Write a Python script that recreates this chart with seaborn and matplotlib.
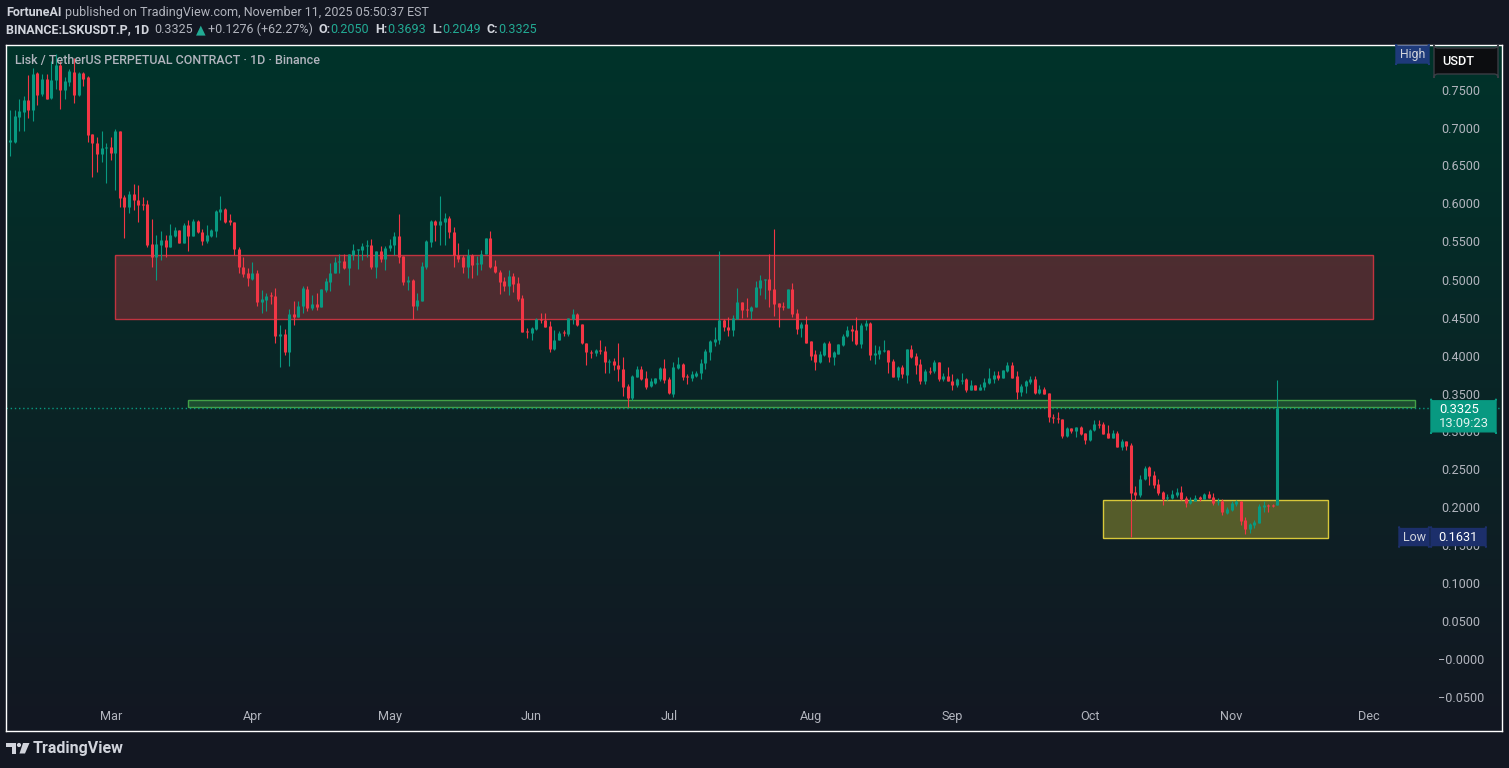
import numpy as np
import pandas as pd
import matplotlib
matplotlib.use("Agg")
import matplotlib.pyplot as plt
import matplotlib.dates as mdates
import matplotlib.colors as mcolors
from matplotlib.patches import Rectangle, FancyBboxPatch, Polygon, Circle
from matplotlib.transforms import Affine2D
import seaborn as sns

# ---------------- data (LSKUSDT.P, 1D, Binance) ----------------
START_DATE = "2025-02-07"
opens = [
    0.683, 0.683, 0.716, 0.723, 0.738, 0.725, 0.774, 0.746, 0.766, 0.741,
    0.764, 0.784, 0.751, 0.762, 0.775, 0.745, 0.774, 0.768, 0.693, 0.681,
    0.667, 0.675, 0.676, 0.669, 0.698, 0.610, 0.597, 0.615, 0.607, 0.601,
    0.601, 0.549, 0.531, 0.547, 0.554, 0.545, 0.559, 0.567, 0.550, 0.574,
    0.559, 0.579, 0.565, 0.552, 0.559, 0.566, 0.591, 0.595, 0.580, 0.577,
    0.542, 0.518, 0.511, 0.503, 0.511, 0.472, 0.475, 0.482, 0.480, 0.428,
    0.430, 0.407, 0.457, 0.453, 0.467, 0.490, 0.465, 0.470, 0.466, 0.488,
    0.499, 0.511, 0.525, 0.526, 0.517, 0.534, 0.541, 0.541, 0.546, 0.547,
    0.519, 0.539, 0.529, 0.544, 0.547, 0.559, 0.533, 0.499, 0.501, 0.467,
    0.474, 0.519, 0.551, 0.579, 0.574, 0.578, 0.583, 0.565, 0.534, 0.531,
    0.518, 0.534, 0.522, 0.523, 0.535, 0.557, 0.520, 0.512, 0.500, 0.493,
    0.507, 0.497, 0.478, 0.434, 0.432, 0.437, 0.450, 0.449, 0.441, 0.411,
    0.422, 0.433, 0.430, 0.450, 0.457, 0.443, 0.419, 0.407, 0.405, 0.409,
    0.408, 0.393, 0.395, 0.390, 0.384, 0.362, 0.346, 0.374, 0.384, 0.373,
    0.362, 0.366, 0.371, 0.386, 0.371, 0.351, 0.385, 0.391, 0.375, 0.373,
    0.375, 0.379, 0.392, 0.407, 0.420, 0.422, 0.449, 0.440, 0.436, 0.450,
    0.473, 0.463, 0.461, 0.466, 0.491, 0.501, 0.502, 0.490, 0.471, 0.467,
    0.464, 0.490, 0.458, 0.438, 0.443, 0.421, 0.404, 0.394, 0.403, 0.418,
    0.400, 0.404, 0.416, 0.427, 0.436, 0.436, 0.417, 0.441, 0.445, 0.403,
    0.404, 0.408, 0.409, 0.395, 0.374, 0.387, 0.376, 0.410, 0.401, 0.391,
    0.369, 0.382, 0.381, 0.394, 0.371, 0.375, 0.369, 0.363, 0.369, 0.371,
    0.357, 0.363, 0.357, 0.360, 0.366, 0.371, 0.376, 0.372, 0.382, 0.389,
    0.375, 0.354, 0.362, 0.367, 0.371, 0.352, 0.358, 0.353, 0.321, 0.320,
    0.318, 0.296, 0.307, 0.302, 0.308, 0.300, 0.291, 0.304, 0.312, 0.312,
    0.300, 0.294, 0.300, 0.281, 0.289, 0.284, 0.222, 0.218, 0.239, 0.255,
    0.245, 0.233, 0.222, 0.215, 0.215, 0.218, 0.222, 0.215, 0.208, 0.211,
    0.215, 0.213, 0.220, 0.216, 0.209, 0.211, 0.195, 0.199, 0.206, 0.210,
    0.185, 0.174, 0.179, 0.182, 0.203, 0.205, 0.205, 0.2050,
]
highs = [
    0.725, 0.725, 0.740, 0.743, 0.771, 0.780, 0.775, 0.772, 0.772, 0.790,
    0.799, 0.790, 0.768, 0.779, 0.793, 0.775, 0.775, 0.770, 0.693, 0.690,
    0.697, 0.681, 0.689, 0.700, 0.698, 0.613, 0.618, 0.627, 0.626, 0.611,
    0.607, 0.582, 0.561, 0.566, 0.561, 0.575, 0.571, 0.567, 0.576, 0.580,
    0.582, 0.580, 0.569, 0.574, 0.569, 0.593, 0.612, 0.596, 0.588, 0.577,
    0.545, 0.531, 0.517, 0.525, 0.515, 0.488, 0.484, 0.486, 0.491, 0.442,
    0.437, 0.463, 0.474, 0.474, 0.493, 0.493, 0.482, 0.484, 0.489, 0.504,
    0.524, 0.532, 0.535, 0.535, 0.535, 0.549, 0.542, 0.550, 0.554, 0.555,
    0.539, 0.546, 0.546, 0.555, 0.565, 0.588, 0.533, 0.507, 0.503, 0.484,
    0.525, 0.554, 0.580, 0.580, 0.612, 0.590, 0.585, 0.571, 0.550, 0.534,
    0.542, 0.536, 0.533, 0.541, 0.557, 0.566, 0.528, 0.514, 0.505, 0.514,
    0.511, 0.505, 0.481, 0.438, 0.440, 0.451, 0.458, 0.458, 0.447, 0.436,
    0.434, 0.436, 0.451, 0.463, 0.458, 0.444, 0.419, 0.409, 0.411, 0.422,
    0.415, 0.397, 0.399, 0.419, 0.400, 0.365, 0.376, 0.388, 0.388, 0.382,
    0.373, 0.373, 0.387, 0.397, 0.374, 0.394, 0.400, 0.392, 0.377, 0.382,
    0.382, 0.397, 0.411, 0.422, 0.439, 0.539, 0.450, 0.453, 0.455, 0.491,
    0.473, 0.477, 0.467, 0.500, 0.508, 0.502, 0.536, 0.568, 0.471, 0.473,
    0.490, 0.498, 0.463, 0.446, 0.454, 0.421, 0.409, 0.408, 0.420, 0.421,
    0.408, 0.417, 0.430, 0.441, 0.442, 0.452, 0.445, 0.449, 0.446, 0.416,
    0.414, 0.422, 0.409, 0.398, 0.388, 0.389, 0.411, 0.416, 0.405, 0.397,
    0.384, 0.387, 0.396, 0.394, 0.379, 0.387, 0.378, 0.373, 0.379, 0.372,
    0.370, 0.363, 0.364, 0.373, 0.385, 0.382, 0.381, 0.383, 0.394, 0.393,
    0.381, 0.364, 0.370, 0.375, 0.375, 0.363, 0.360, 0.353, 0.325, 0.327,
    0.318, 0.308, 0.307, 0.308, 0.309, 0.300, 0.305, 0.317, 0.317, 0.314,
    0.310, 0.304, 0.303, 0.292, 0.289, 0.287, 0.230, 0.245, 0.256, 0.256,
    0.250, 0.239, 0.224, 0.220, 0.225, 0.227, 0.230, 0.217, 0.216, 0.218,
    0.217, 0.221, 0.224, 0.221, 0.214, 0.213, 0.203, 0.210, 0.212, 0.211,
    0.189, 0.182, 0.185, 0.207, 0.210, 0.207, 0.207, 0.3693,
]
lows = [
    0.664, 0.681, 0.697, 0.698, 0.714, 0.711, 0.732, 0.743, 0.740, 0.740,
    0.752, 0.726, 0.740, 0.757, 0.734, 0.743, 0.756, 0.683, 0.637, 0.644,
    0.657, 0.629, 0.659, 0.620, 0.598, 0.557, 0.590, 0.594, 0.577, 0.594,
    0.545, 0.519, 0.501, 0.528, 0.532, 0.545, 0.558, 0.550, 0.550, 0.540,
    0.559, 0.563, 0.547, 0.550, 0.558, 0.558, 0.580, 0.576, 0.574, 0.534,
    0.510, 0.505, 0.493, 0.501, 0.467, 0.458, 0.461, 0.470, 0.419, 0.387,
    0.403, 0.388, 0.442, 0.453, 0.458, 0.461, 0.462, 0.462, 0.466, 0.485,
    0.487, 0.511, 0.510, 0.516, 0.495, 0.527, 0.516, 0.528, 0.531, 0.516,
    0.504, 0.525, 0.514, 0.540, 0.534, 0.524, 0.495, 0.488, 0.450, 0.462,
    0.474, 0.516, 0.545, 0.552, 0.547, 0.547, 0.557, 0.519, 0.525, 0.511,
    0.504, 0.504, 0.508, 0.515, 0.535, 0.517, 0.510, 0.483, 0.487, 0.482,
    0.485, 0.474, 0.433, 0.425, 0.422, 0.435, 0.445, 0.439, 0.406, 0.409,
    0.422, 0.427, 0.427, 0.443, 0.441, 0.417, 0.390, 0.399, 0.401, 0.404,
    0.379, 0.379, 0.383, 0.368, 0.349, 0.334, 0.343, 0.374, 0.370, 0.358,
    0.360, 0.364, 0.369, 0.366, 0.351, 0.348, 0.384, 0.370, 0.364, 0.369,
    0.374, 0.371, 0.384, 0.396, 0.415, 0.417, 0.434, 0.428, 0.428, 0.450,
    0.451, 0.453, 0.450, 0.466, 0.481, 0.476, 0.466, 0.454, 0.440, 0.462,
    0.464, 0.452, 0.430, 0.426, 0.419, 0.396, 0.383, 0.392, 0.401, 0.393,
    0.389, 0.404, 0.415, 0.426, 0.421, 0.416, 0.412, 0.436, 0.396, 0.391,
    0.397, 0.406, 0.379, 0.374, 0.370, 0.373, 0.366, 0.399, 0.378, 0.364,
    0.365, 0.378, 0.379, 0.368, 0.369, 0.368, 0.357, 0.360, 0.365, 0.354,
    0.356, 0.356, 0.357, 0.357, 0.364, 0.366, 0.370, 0.372, 0.380, 0.372,
    0.345, 0.349, 0.353, 0.364, 0.351, 0.351, 0.351, 0.315, 0.313, 0.313,
    0.294, 0.295, 0.300, 0.295, 0.297, 0.286, 0.289, 0.303, 0.306, 0.299,
    0.294, 0.294, 0.281, 0.278, 0.277, 0.1631, 0.212, 0.216, 0.238, 0.232,
    0.227, 0.218, 0.205, 0.212, 0.213, 0.216, 0.212, 0.202, 0.207, 0.210,
    0.211, 0.213, 0.214, 0.205, 0.205, 0.192, 0.194, 0.198, 0.204, 0.179,
    0.167, 0.168, 0.175, 0.182, 0.196, 0.196, 0.202, 0.2049,
]
closes = [
    0.685, 0.717, 0.724, 0.738, 0.725, 0.773, 0.745, 0.766, 0.740, 0.764,
    0.784, 0.751, 0.763, 0.776, 0.745, 0.774, 0.766, 0.692, 0.681, 0.667,
    0.675, 0.676, 0.669, 0.698, 0.609, 0.597, 0.615, 0.607, 0.600, 0.600,
    0.547, 0.531, 0.549, 0.554, 0.545, 0.561, 0.567, 0.550, 0.574, 0.559,
    0.579, 0.564, 0.552, 0.561, 0.567, 0.592, 0.595, 0.578, 0.577, 0.542,
    0.518, 0.509, 0.504, 0.510, 0.472, 0.476, 0.480, 0.480, 0.428, 0.430,
    0.406, 0.457, 0.453, 0.467, 0.491, 0.465, 0.470, 0.466, 0.489, 0.500,
    0.511, 0.525, 0.526, 0.517, 0.535, 0.541, 0.542, 0.546, 0.547, 0.519,
    0.539, 0.529, 0.544, 0.547, 0.559, 0.531, 0.499, 0.501, 0.467, 0.475,
    0.520, 0.552, 0.579, 0.574, 0.579, 0.583, 0.564, 0.534, 0.529, 0.518,
    0.534, 0.521, 0.524, 0.536, 0.557, 0.518, 0.512, 0.499, 0.493, 0.507,
    0.496, 0.476, 0.433, 0.433, 0.438, 0.450, 0.449, 0.440, 0.411, 0.422,
    0.432, 0.432, 0.451, 0.456, 0.442, 0.418, 0.406, 0.406, 0.409, 0.408,
    0.393, 0.395, 0.389, 0.384, 0.360, 0.346, 0.375, 0.384, 0.371, 0.361,
    0.368, 0.373, 0.386, 0.370, 0.352, 0.387, 0.391, 0.374, 0.374, 0.377,
    0.379, 0.392, 0.408, 0.421, 0.424, 0.449, 0.439, 0.436, 0.451, 0.473,
    0.462, 0.462, 0.466, 0.492, 0.501, 0.502, 0.488, 0.470, 0.466, 0.466,
    0.490, 0.457, 0.437, 0.444, 0.419, 0.401, 0.394, 0.404, 0.419, 0.400,
    0.406, 0.417, 0.428, 0.436, 0.435, 0.417, 0.442, 0.445, 0.403, 0.405,
    0.409, 0.409, 0.394, 0.374, 0.387, 0.377, 0.411, 0.400, 0.389, 0.369,
    0.382, 0.381, 0.394, 0.371, 0.375, 0.368, 0.363, 0.371, 0.370, 0.356,
    0.363, 0.357, 0.360, 0.367, 0.372, 0.376, 0.372, 0.383, 0.389, 0.373,
    0.354, 0.362, 0.369, 0.371, 0.353, 0.358, 0.351, 0.321, 0.320, 0.319,
    0.296, 0.306, 0.302, 0.308, 0.299, 0.291, 0.304, 0.312, 0.311, 0.299,
    0.294, 0.300, 0.281, 0.289, 0.283, 0.221, 0.218, 0.240, 0.254, 0.244,
    0.232, 0.221, 0.213, 0.216, 0.220, 0.222, 0.213, 0.208, 0.212, 0.215,
    0.214, 0.220, 0.215, 0.208, 0.210, 0.196, 0.200, 0.208, 0.211, 0.184,
    0.174, 0.180, 0.183, 0.204, 0.205, 0.204, 0.204, 0.3325,
]

# zones drawn on the chart
supply_zone = [0.450, 0.534]
supply_dates = ["2025-03-02", "2025-12-02"]
support_band = [0.334, 0.343]
support_dates = ["2025-03-18", "2025-12-11"]
demand_zone = [0.162, 0.212]
demand_dates = ["2025-10-04", "2025-11-22"]

last_price = 0.3325
countdown = "13:09:23"
low_value = 0.1631
price_ticks = [0.75, 0.70, 0.65, 0.60, 0.55, 0.50, 0.45, 0.40, 0.35, 0.30,
               0.25, 0.20, 0.15, 0.10, 0.05, 0.0, -0.05]
month_labels = ["Mar", "Apr", "May", "Jun", "Jul", "Aug", "Sep", "Oct", "Nov", "Dec"]
month_dates = ["2025-03-01", "2025-04-01", "2025-05-01", "2025-06-01", "2025-07-01",
               "2025-08-01", "2025-09-01", "2025-10-01", "2025-11-01", "2025-12-01"]

header1 = [("FortuneAI", "#d1d4dc", "bold", 0),
           ("published on TradingView.com, November 11, 2025 05:50:37 EST", "#b2b5be", "normal", 4)]
header2 = [("BINANCE:LSKUSDT.P, 1D", "#d1d4dc", "bold", 0),
           ("0.3325", "#b2b5be", "normal", 5),
           ("▲", "#22ab94", "normal", 3),
           ("+0.1276 (+62.27%)", "#b2b5be", "normal", 3),
           ("O:", "#d1d4dc", "bold", 5), ("0.2050", "#22ab94", "normal", 0),
           ("H:", "#d1d4dc", "bold", 6), ("0.3693", "#22ab94", "normal", 0),
           ("L:", "#d1d4dc", "bold", 6), ("0.2049", "#22ab94", "normal", 0),
           ("C:", "#d1d4dc", "bold", 6), ("0.3325", "#22ab94", "normal", 0)]
chart_title = "Lisk / TetherUS PERPETUAL CONTRACT · 1D · Binance"

UP, DOWN = "#089981", "#f23645"
BG = "#131722"

# ---------------- setup ----------------
sns.set_theme(style="dark")
FONT = ["Roboto", "DejaVu Sans"]
plt.rcParams["font.family"] = FONT

W, H = 1509, 768
fig = plt.figure(figsize=(W / 100, H / 100), dpi=100, facecolor=BG)
ax = fig.add_axes([6 / W, (H - 731) / H, (1502 - 6) / W, (731 - 45) / H])
PX = Affine2D().scale(1, -1).translate(0, H)   # pixel coords, origin top-left

dates = pd.date_range(START_DATE, periods=len(closes), freq="D")
xs = mdates.date2num(dates)
d0 = xs[0]
px_per_day = 4.575
xlim = (d0 - 4 / px_per_day, d0 + 1492 / px_per_day)
ylim = (0.2 - 222 / 760, 0.2 + 464 / 760)

# gradient background
top = np.array(mcolors.to_rgb("#00332a"))
bot = np.array(mcolors.to_rgb(BG))
t = np.linspace(0, 1, 512)[:, None]
grad = (top * (1 - t) + bot * t)[:, None, :]
ax.imshow(grad, extent=[xlim[0], xlim[1], ylim[0], ylim[1]], aspect="auto",
          zorder=0, interpolation="bilinear")

# zones
def zone(dts, rng, face, edge, alpha):
    a, b = mdates.date2num(pd.to_datetime(dts))
    ax.add_patch(Rectangle((a, rng[0]), b - a, rng[1] - rng[0],
                           facecolor=mcolors.to_rgba(face, alpha),
                           edgecolor=edge, lw=1.0, zorder=1))

zone(supply_dates, supply_zone, "#f23645", "#c0343f", 0.30)
zone(support_dates, support_band, "#4caf50", "#43a047", 0.30)
zone(demand_dates, demand_zone, "#ffeb3b", "#d8c83a", 0.30)

# ---------------- candles via seaborn ----------------
o = np.array(opens); h = np.array(highs); l = np.array(lows); c = np.array(closes)
direction = np.where(c >= o, "up", "down")
n = len(c)
wick = pd.DataFrame({
    "x": np.repeat(xs, 2),
    "y": np.column_stack([l, h]).ravel(),
    "unit": np.repeat(np.arange(n), 2),
    "dir": np.repeat(direction, 2),
})
lo_b = np.minimum(o, c); hi_b = np.maximum(o, c)
mid = (lo_b + hi_b) / 2
min_h = 0.0014
lo_b = np.where(hi_b - lo_b < min_h, mid - min_h / 2, lo_b)
hi_b = np.where(hi_b - lo_b < min_h, mid + min_h / 2, hi_b)
body = pd.DataFrame({
    "x": np.repeat(xs, 2),
    "y": np.column_stack([lo_b, hi_b]).ravel(),
    "unit": np.repeat(np.arange(n), 2),
    "dir": np.repeat(direction, 2),
})
pal = {"up": UP, "down": DOWN}
sns.lineplot(data=wick, x="x", y="y", units="unit", estimator=None, hue="dir",
             palette=pal, linewidth=0.8, legend=False, ax=ax, zorder=3,
             solid_capstyle="butt")
sns.lineplot(data=body, x="x", y="y", units="unit", estimator=None, hue="dir",
             palette=pal, linewidth=2.2, legend=False, ax=ax, zorder=4,
             solid_capstyle="butt")

# current price dotted line
ax.axhline(last_price, color=UP, lw=1.0, ls=(0, (1, 2)), zorder=2)

ax.set_xlim(*xlim)
ax.set_ylim(*ylim)
ax.set_xlabel(""); ax.set_ylabel("")
ax.set_xticks([]); ax.set_yticks([])
ax.grid(False)
for s in ax.spines.values():
    s.set_color("#ffffff"); s.set_linewidth(1.0); s.set_visible(True)

# price scale labels
for v in price_ticks:
    s = f"{v:.4f}" if v > 0 else "\u2212" + f"{abs(v):.4f}"
    ax.text((1461 - 6) / 1496, v, s, transform=ax.get_yaxis_transform(),
            ha="center", va="center", color="#b2b5be", fontsize=9.1, zorder=6)

# month labels
for lbl, d in zip(month_labels, month_dates):
    ax.text(mdates.date2num(pd.Timestamp(d)), (731 - 716.5) / 686, lbl,
            transform=ax.get_xaxis_transform(), ha="center", va="center",
            color="#b2b5be", fontsize=9.1, zorder=6)

# chart title
fig.text(15, 60.5, chart_title, transform=PX, ha="left", va="center",
         color="#b2b5be", fontsize=9.0, fontweight="medium", zorder=10)

# ---------------- badges ----------------
def badge(x0, y0, x1, y1, face, edge=None, r=2):
    p = FancyBboxPatch((x0, y1), x1 - x0, y0 - y1,
                       boxstyle=f"round,pad=0,rounding_size={r}",
                       transform=PX, facecolor=face,
                       edgecolor=edge if edge else face, lw=1, zorder=20)
    fig.add_artist(p)

def ytop(v):
    return 509 - (v - 0.2) * 760

badge(1396, 46, 1429, 63, "#1e3a7a")
fig.text(1412.5, 54.5, "High", transform=PX, ha="center", va="center",
         color="#d1d4dc", fontsize=8.8, zorder=21)
badge(1434, 48, 1498, 74, "#0c0d10", "#3a3d45", r=4)
fig.text(1442, 61.5, "USDT", transform=PX, ha="left", va="center",
         color="#ffffff", fontsize=9.2, fontweight="medium", zorder=21)

yc = ytop(last_price)
badge(1431, yc - 7.5, 1496, yc + 23.5, "#089981")
fig.text(1439, yc + 1, f"{last_price:.4f}", transform=PX, ha="left", va="center",
         color="#ffffff", fontsize=9.4, zorder=21)
fig.text(1439, yc + 15.5, countdown, transform=PX, ha="left", va="center",
         color="#e0f2ee", fontsize=9.4, zorder=21)

yl = ytop(low_value)
badge(1399, yl - 8.5, 1429, yl + 8.5, "#1c2f6b")
fig.text(1414, yl, "Low", transform=PX, ha="center", va="center",
         color="#d1d4dc", fontsize=9.0, zorder=21)
badge(1431, yl - 8.5, 1486, yl + 8.5, "#1c2f6b")
fig.text(1438, yl, f"{low_value:.4f}", transform=PX, ha="left", va="center",
         color="#ffffff", fontsize=9.2, zorder=21)

# ---------------- header ----------------
fig.canvas.draw()
renderer = fig.canvas.get_renderer()

def runs(x, y, parts, size):
    for txt, col, wt, gap in parts:
        x += gap
        tt = fig.text(x, y, txt, transform=PX, ha="left", va="center",
                      color=col, fontsize=size, fontweight=wt,
                      family=["Roboto", "DejaVu Sans"])
        x += tt.get_window_extent(renderer).width

runs(6, 12.5, header1, 9.0)
runs(6, 29.5, header2, 9.0)

# TradingView logo
logo_col = "#d1d4dc"
fig.add_artist(Polygon([(6, 743), (16, 743), (16, 753.5), (12, 753.5), (12, 747), (6, 747)],
                       closed=True, transform=PX, facecolor=logo_col, edgecolor="none"))
fig.add_artist(Circle((19, 745), 2.1, transform=PX, facecolor=logo_col, edgecolor="none"))
fig.add_artist(Polygon([(23, 743), (29.5, 743), (25, 753.5), (19.5, 753.5)],
                       closed=True, transform=PX, facecolor=logo_col, edgecolor="none"))
fig.text(33, 748.5, "TradingView", transform=PX, ha="left", va="center",
         color=logo_col, fontsize=11.5, fontweight="bold")

fig.savefig("out.png", dpi=100, facecolor=BG)
